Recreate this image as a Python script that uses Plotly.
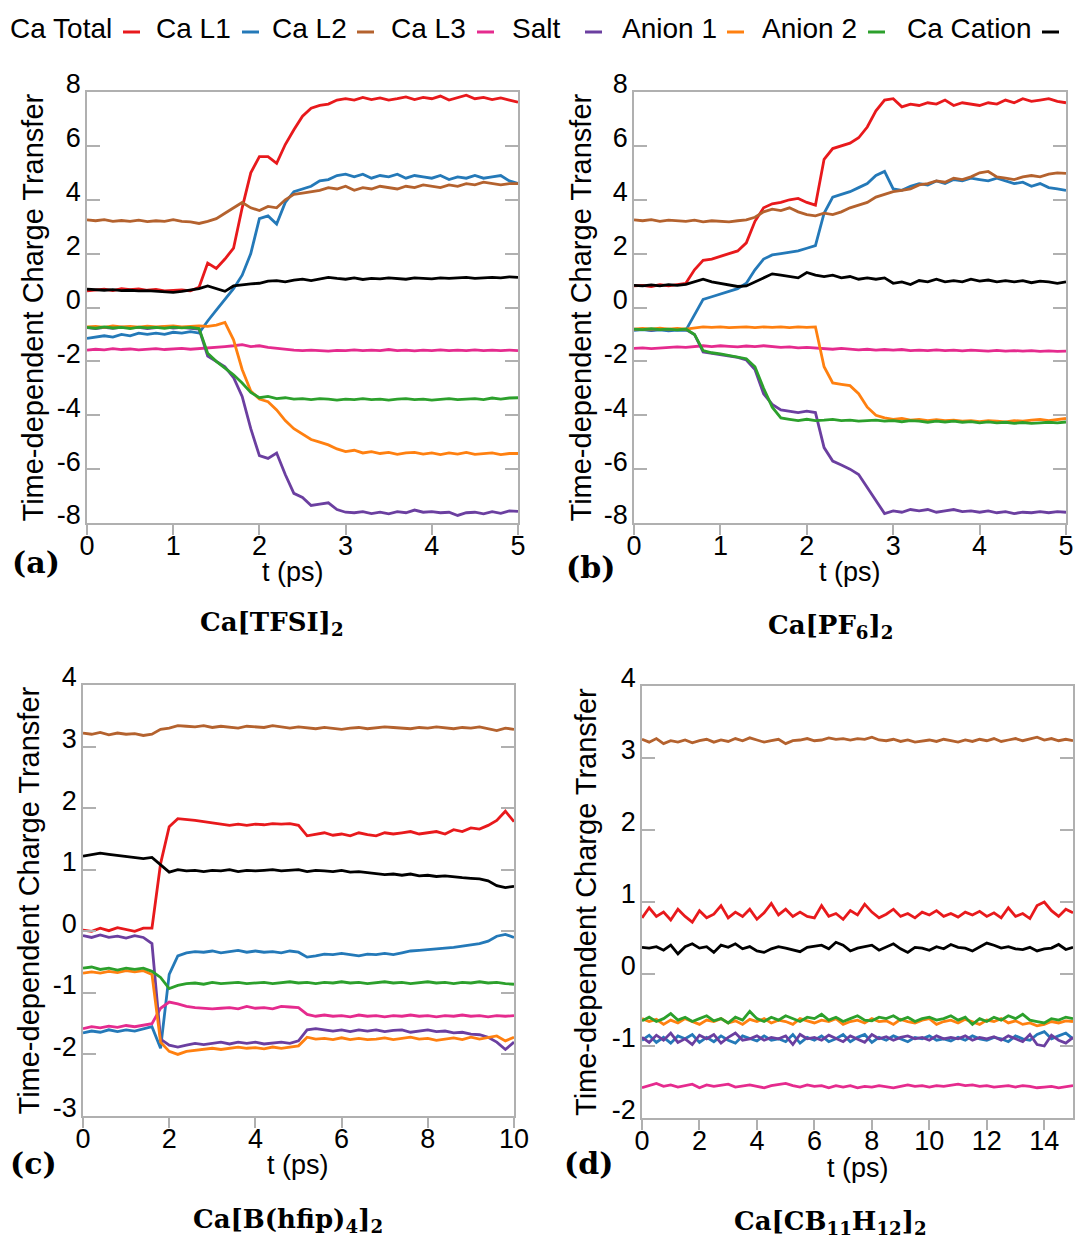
import numpy as np
import plotly.graph_objects as go

# ---------------- data ----------------
series_names = ["Ca Total", "Ca L1", "Ca L2", "Ca L3", "Salt", "Anion 1", "Anion 2", "Ca Cation"]
panel_letters = ["(a)", "(b)", "(c)", "(d)"]
panel_titles = ["Ca[TFSI]<sub>2</sub>", "Ca[PF<sub>6</sub>]<sub>2</sub>",
                "Ca[B(hfip)<sub>4</sub>]<sub>2</sub>", "Ca[CB<sub>11</sub>H<sub>12</sub>]<sub>2</sub>"]
t_end = [5, 5, 10, 15]
x_ticks = [[0, 1, 2, 3, 4, 5], [0, 1, 2, 3, 4, 5], [0, 2, 4, 6, 8, 10], [0, 2, 4, 6, 8, 10, 12, 14]]
y_ticks = [[-8, -6, -4, -2, 0, 2, 4, 6, 8], [-8, -6, -4, -2, 0, 2, 4, 6, 8],
           [-3, -2, -1, 0, 1, 2, 3, 4], [-2, -1, 0, 1, 2, 3, 4]]
y_ticktext = [["-8", "-6", "-4", "-2", "0", "2", "4", "6", "8"], ["-8", "-6", "-4", "-2", "0", "2", "4", "6", "8"],
              ["-3", "-2", "-1", "0", "1", "2", "3", "4"], ["-2", "-1", "0", "1", "2", "3", "4"]]
x_label = "t (ps)"
y_label = "Time-dependent Charge Transfer"

# Panel (a) Ca[TFSI]2, sampled every 0.1 ps
a_total = [0.62, 0.65, 0.68, 0.63, 0.70, 0.66, 0.69, 0.64, 0.67, 0.62, 0.63, 0.65, 0.62, 0.75, 1.65, 1.45, 1.80, 2.20, 3.70, 5.00,
           5.60, 5.60, 5.35, 6.05, 6.60, 7.10, 7.40, 7.50, 7.55, 7.70, 7.75, 7.70, 7.80, 7.72, 7.78, 7.70, 7.75, 7.82, 7.72, 7.80,
           7.75, 7.85, 7.70, 7.80, 7.88, 7.75, 7.80, 7.72, 7.78, 7.70, 7.62]
a_l1 = [-1.15, -1.10, -1.05, -1.10, -1.00, -1.05, -0.95, -1.00, -0.95, -1.00, -0.92, -0.95, -0.90, -0.95, -0.50, -0.10, 0.30, 0.70, 1.20, 2.00,
        3.30, 3.40, 3.10, 3.90, 4.30, 4.40, 4.50, 4.70, 4.75, 4.90, 4.95, 4.85, 4.95, 4.80, 4.90, 4.85, 4.95, 4.80, 4.90, 4.85,
        4.80, 4.90, 4.75, 4.85, 4.80, 4.90, 4.80, 4.85, 4.90, 4.70, 4.60]
a_l2 = [3.25, 3.22, 3.26, 3.20, 3.23, 3.20, 3.24, 3.19, 3.22, 3.20, 3.26, 3.20, 3.18, 3.12, 3.20, 3.30, 3.50, 3.70, 3.90, 3.70,
        3.60, 3.75, 3.70, 4.00, 4.20, 4.25, 4.30, 4.35, 4.45, 4.40, 4.50, 4.35, 4.45, 4.40, 4.50, 4.45, 4.40, 4.50, 4.45, 4.55,
        4.50, 4.45, 4.55, 4.50, 4.60, 4.55, 4.65, 4.60, 4.55, 4.60, 4.60]
a_l3 = [-1.58, -1.55, -1.57, -1.53, -1.56, -1.54, -1.57, -1.55, -1.53, -1.56, -1.54, -1.52, -1.55, -1.53, -1.50, -1.48, -1.45, -1.42, -1.38, -1.45,
        -1.42, -1.48, -1.52, -1.55, -1.58, -1.60, -1.58, -1.60, -1.62, -1.59, -1.60, -1.57, -1.60, -1.58, -1.60, -1.56, -1.60, -1.58, -1.61, -1.58,
        -1.60, -1.57, -1.60, -1.58, -1.60, -1.57, -1.60, -1.58, -1.60, -1.58, -1.60]
a_salt = [-0.75, -0.78, -0.74, -0.77, -0.73, -0.76, -0.74, -0.78, -0.75, -0.72, -0.76, -0.74, -0.77, -0.80, -1.80, -2.00, -2.20, -2.60, -3.30, -4.50,
          -5.50, -5.60, -5.40, -6.20, -6.90, -7.05, -7.35, -7.30, -7.25, -7.50, -7.60, -7.62, -7.58, -7.65, -7.60, -7.66, -7.58, -7.62, -7.52, -7.60,
          -7.58, -7.62, -7.60, -7.72, -7.62, -7.60, -7.66, -7.58, -7.64, -7.55, -7.57]
a_an1 = [-0.72, -0.70, -0.74, -0.68, -0.72, -0.70, -0.73, -0.69, -0.72, -0.70, -0.68, -0.72, -0.70, -0.68, -0.70, -0.65, -0.55, -1.20, -2.30, -3.10,
         -3.40, -3.50, -3.80, -4.20, -4.50, -4.70, -4.90, -5.00, -5.10, -5.25, -5.35, -5.30, -5.40, -5.35, -5.42, -5.38, -5.45, -5.40, -5.38, -5.44,
         -5.40, -5.46, -5.40, -5.44, -5.38, -5.45, -5.42, -5.40, -5.46, -5.42, -5.42]
a_an2 = [-0.74, -0.77, -0.72, -0.76, -0.74, -0.78, -0.73, -0.76, -0.74, -0.77, -0.73, -0.76, -0.74, -0.78, -1.70, -2.00, -2.25, -2.50, -2.80, -3.15,
         -3.35, -3.30, -3.38, -3.35, -3.40, -3.38, -3.42, -3.38, -3.40, -3.44, -3.40, -3.42, -3.38, -3.42, -3.40, -3.44, -3.40, -3.38, -3.42, -3.40,
         -3.44, -3.40, -3.38, -3.42, -3.40, -3.38, -3.42, -3.36, -3.40, -3.36, -3.35]
a_cat = [0.68, 0.65, 0.64, 0.66, 0.63, 0.64, 0.62, 0.63, 0.60, 0.58, 0.56, 0.60, 0.64, 0.70, 0.80, 0.70, 0.60, 0.80, 0.85, 0.88,
         0.90, 0.98, 1.00, 0.95, 1.02, 1.05, 1.00, 1.06, 1.12, 1.08, 1.05, 1.10, 1.04, 1.08, 1.06, 1.10, 1.07, 1.05, 1.10, 1.08,
         1.06, 1.10, 1.08, 1.10, 1.12, 1.08, 1.10, 1.12, 1.10, 1.14, 1.12]

# Panel (b) Ca[PF6]2, sampled every 0.1 ps
b_total = [0.80, 0.82, 0.78, 0.85, 0.80, 0.84, 0.90, 1.40, 1.75, 1.80, 1.90, 2.00, 2.10, 2.40, 3.20, 3.70, 3.85, 3.90, 4.00, 4.05,
           3.90, 3.80, 5.50, 5.90, 6.00, 6.10, 6.30, 6.70, 7.30, 7.70, 7.75, 7.45, 7.55, 7.50, 7.60, 7.55, 7.70, 7.50, 7.60, 7.55,
           7.50, 7.60, 7.55, 7.70, 7.60, 7.75, 7.65, 7.70, 7.75, 7.65, 7.60]
b_l1 = [-0.85, -0.82, -0.86, -0.83, -0.87, -0.84, -0.85, -0.30, 0.30, 0.40, 0.50, 0.60, 0.70, 0.90, 1.40, 1.80, 1.95, 2.00, 2.05, 2.10,
        2.20, 2.30, 3.50, 4.10, 4.20, 4.30, 4.45, 4.60, 4.90, 5.05, 4.40, 4.35, 4.50, 4.60, 4.55, 4.70, 4.60, 4.75, 4.70, 4.80,
        4.75, 4.70, 4.80, 4.70, 4.60, 4.65, 4.50, 4.60, 4.45, 4.40, 4.35]
b_l2 = [3.25, 3.22, 3.26, 3.20, 3.24, 3.22, 3.20, 3.24, 3.18, 3.22, 3.20, 3.18, 3.22, 3.25, 3.35, 3.55, 3.65, 3.60, 3.70, 3.55,
        3.45, 3.40, 3.50, 3.45, 3.55, 3.70, 3.80, 3.90, 4.10, 4.20, 4.30, 4.35, 4.40, 4.55, 4.60, 4.70, 4.65, 4.80, 4.75, 4.85,
        5.00, 5.05, 4.85, 4.80, 4.75, 4.85, 4.90, 4.85, 4.95, 5.00, 4.98]
b_l3 = [-1.52, -1.50, -1.53, -1.50, -1.48, -1.46, -1.48, -1.44, -1.42, -1.45, -1.42, -1.44, -1.46, -1.43, -1.45, -1.42, -1.45, -1.48, -1.46, -1.50,
        -1.48, -1.50, -1.53, -1.55, -1.52, -1.55, -1.57, -1.55, -1.58, -1.56, -1.58, -1.56, -1.60, -1.58, -1.60, -1.57, -1.60, -1.58, -1.61, -1.58,
        -1.60, -1.62, -1.59, -1.62, -1.60, -1.62, -1.60, -1.63, -1.61, -1.63, -1.62]
b_salt = [-0.82, -0.80, -0.84, -0.80, -0.83, -0.81, -0.82, -1.00, -1.65, -1.70, -1.75, -1.80, -1.85, -1.95, -2.30, -3.20, -3.60, -3.80, -3.85, -3.90,
          -3.85, -3.90, -5.20, -5.70, -5.85, -6.00, -6.20, -6.70, -7.20, -7.65, -7.55, -7.60, -7.50, -7.55, -7.50, -7.60, -7.55, -7.50, -7.58, -7.55,
          -7.60, -7.55, -7.62, -7.58, -7.65, -7.60, -7.62, -7.58, -7.62, -7.58, -7.60]
b_an1 = [-0.80, -0.78, -0.80, -0.77, -0.80, -0.78, -0.80, -0.75, -0.72, -0.74, -0.72, -0.75, -0.73, -0.72, -0.75, -0.72, -0.74, -0.72, -0.75, -0.72,
         -0.74, -0.72, -2.20, -2.80, -2.85, -2.90, -3.20, -3.70, -4.00, -4.10, -4.15, -4.12, -4.18, -4.15, -4.20, -4.16, -4.20, -4.18, -4.22, -4.20,
         -4.24, -4.20, -4.22, -4.25, -4.20, -4.22, -4.18, -4.15, -4.20, -4.15, -4.12]
b_an2 = [-0.80, -0.82, -0.79, -0.82, -0.80, -0.83, -0.80, -1.00, -1.60, -1.68, -1.72, -1.78, -1.82, -1.90, -2.20, -3.00, -3.70, -4.10, -4.15, -4.20,
         -4.15, -4.20, -4.18, -4.15, -4.20, -4.18, -4.22, -4.20, -4.18, -4.22, -4.20, -4.24, -4.20, -4.22, -4.26, -4.22, -4.25, -4.22, -4.26, -4.24,
         -4.28, -4.25, -4.28, -4.26, -4.30, -4.27, -4.30, -4.28, -4.26, -4.28, -4.25]
b_cat = [0.82, 0.80, 0.84, 0.80, 0.85, 0.82, 0.86, 0.95, 1.05, 0.95, 0.90, 0.85, 0.78, 0.80, 0.95, 1.10, 1.25, 1.20, 1.15, 1.10,
         1.30, 1.20, 1.15, 1.20, 1.10, 1.15, 1.05, 1.10, 1.05, 1.10, 0.90, 0.95, 0.85, 1.00, 0.95, 1.05, 0.95, 1.00, 0.95, 1.05,
         0.98, 1.02, 0.95, 1.00, 0.95, 1.00, 0.92, 0.98, 0.95, 0.90, 0.95]

# Panel (c) Ca[B(hfip)4]2, sampled every 0.2 ps
c_total = [0.02, 0.00, 0.05, 0.01, 0.06, 0.03, 0.00, 0.05, 0.05, 1.10, 1.70, 1.83, 1.82, 1.80, 1.78, 1.76, 1.75, 1.72, 1.74, 1.72,
           1.74, 1.73, 1.75, 1.74, 1.75, 1.72, 1.55, 1.57, 1.60, 1.56, 1.58, 1.55, 1.60, 1.57, 1.55, 1.60, 1.58, 1.60, 1.62, 1.58,
           1.60, 1.62, 1.58, 1.65, 1.62, 1.68, 1.66, 1.72, 1.80, 1.95, 1.78]
c_l1 = [-1.65, -1.62, -1.64, -1.60, -1.63, -1.60, -1.62, -1.58, -1.55, -1.90, -0.70, -0.40, -0.35, -0.33, -0.34, -0.32, -0.35, -0.33, -0.31, -0.34,
        -0.32, -0.34, -0.33, -0.35, -0.32, -0.34, -0.42, -0.40, -0.37, -0.38, -0.36, -0.38, -0.40, -0.37, -0.38, -0.36, -0.38, -0.35, -0.32, -0.31,
        -0.30, -0.29, -0.28, -0.26, -0.24, -0.22, -0.20, -0.16, -0.08, -0.05, -0.10]
c_l2 = [3.22, 3.20, 3.23, 3.19, 3.22, 3.20, 3.21, 3.18, 3.20, 3.28, 3.30, 3.34, 3.33, 3.32, 3.34, 3.31, 3.33, 3.32, 3.30, 3.33,
        3.32, 3.31, 3.34, 3.32, 3.30, 3.32, 3.30, 3.29, 3.31, 3.30, 3.28, 3.30, 3.31, 3.29, 3.30, 3.32, 3.31, 3.30, 3.29, 3.31,
        3.30, 3.32, 3.30, 3.29, 3.31, 3.30, 3.32, 3.29, 3.26, 3.30, 3.28]
c_l3 = [-1.58, -1.55, -1.57, -1.54, -1.56, -1.53, -1.55, -1.53, -1.50, -1.25, -1.15, -1.18, -1.22, -1.24, -1.25, -1.26, -1.25, -1.24, -1.26, -1.22,
        -1.25, -1.24, -1.26, -1.22, -1.23, -1.24, -1.35, -1.38, -1.36, -1.38, -1.37, -1.39, -1.36, -1.38, -1.37, -1.39, -1.37, -1.38, -1.36, -1.38,
        -1.37, -1.39, -1.37, -1.38, -1.36, -1.38, -1.37, -1.39, -1.37, -1.38, -1.37]
c_salt = [-0.07, -0.10, -0.06, -0.10, -0.08, -0.11, -0.07, -0.10, -0.20, -1.75, -1.85, -1.88, -1.85, -1.82, -1.84, -1.82, -1.80, -1.83, -1.80, -1.82,
          -1.80, -1.83, -1.81, -1.80, -1.82, -1.78, -1.60, -1.58, -1.60, -1.62, -1.60, -1.63, -1.60, -1.62, -1.60, -1.63, -1.61, -1.60, -1.64, -1.62,
          -1.60, -1.63, -1.62, -1.65, -1.64, -1.67, -1.68, -1.72, -1.80, -1.92, -1.80]
c_an1 = [-0.68, -0.66, -0.68, -0.65, -0.67, -0.64, -0.66, -0.64, -0.70, -1.80, -1.95, -2.00, -1.95, -1.93, -1.92, -1.90, -1.92, -1.90, -1.88, -1.90,
         -1.89, -1.91, -1.88, -1.90, -1.88, -1.86, -1.72, -1.75, -1.74, -1.76, -1.73, -1.76, -1.74, -1.76, -1.75, -1.73, -1.76, -1.74, -1.72, -1.75,
         -1.74, -1.77, -1.75, -1.73, -1.76, -1.72, -1.75, -1.73, -1.70, -1.78, -1.72]
c_an2 = [-0.60, -0.58, -0.62, -0.60, -0.63, -0.60, -0.62, -0.60, -0.65, -0.75, -0.93, -0.88, -0.85, -0.84, -0.86, -0.83, -0.85, -0.84, -0.83, -0.85,
         -0.84, -0.83, -0.85, -0.84, -0.82, -0.84, -0.83, -0.85, -0.83, -0.84, -0.82, -0.84, -0.83, -0.85, -0.84, -0.82, -0.84, -0.83, -0.85, -0.83,
         -0.82, -0.84, -0.83, -0.85, -0.83, -0.84, -0.82, -0.84, -0.83, -0.85, -0.86]
c_cat = [1.22, 1.25, 1.27, 1.25, 1.23, 1.22, 1.20, 1.18, 1.20, 1.08, 0.96, 1.00, 0.98, 0.99, 0.97, 0.99, 0.98, 1.00, 0.97, 0.99,
         0.98, 0.99, 1.00, 0.98, 0.99, 1.00, 0.97, 0.99, 0.98, 0.97, 0.99, 0.96, 0.97, 0.95, 0.93, 0.92, 0.93, 0.91, 0.93, 0.90,
         0.91, 0.89, 0.90, 0.88, 0.87, 0.86, 0.85, 0.82, 0.74, 0.71, 0.73]

# Panel (d) Ca[CB11H12]2, sampled every 0.25 ps
d_total = [0.78, 0.92, 0.80, 0.86, 0.75, 0.90, 0.80, 0.72, 0.88, 0.78, 0.83, 0.95, 0.78, 0.86, 0.80, 0.90, 0.76, 0.85, 0.98, 0.82,
           0.90, 0.80, 0.86, 0.80, 0.78, 0.95, 0.80, 0.84, 0.76, 0.88, 0.82, 0.97, 0.86, 0.78, 0.83, 0.90, 0.80, 0.84, 0.78, 0.86,
           0.82, 0.88, 0.80, 0.84, 0.79, 0.86, 0.82, 0.87, 0.80, 0.85, 0.78, 0.92, 0.80, 0.84, 0.77, 0.95, 1.00, 0.88, 0.80, 0.90, 0.85]
d_l1 = [-0.92, -0.85, -0.95, -0.88, -0.96, -0.86, -0.90, -0.84, -0.95, -0.88, -0.94, -0.86, -0.92, -0.96, -0.86, -0.90, -0.93, -0.86, -0.92, -0.90,
        -0.94, -0.84, -0.96, -0.88, -0.92, -0.86, -0.94, -0.90, -0.84, -0.94, -0.88, -0.84, -0.95, -0.88, -0.92, -0.86, -0.90, -0.94, -0.88, -0.90,
        -0.86, -0.92, -0.90, -0.93, -0.88, -0.92, -0.86, -0.90, -0.92, -0.88, -0.90, -0.94, -0.86, -0.90, -0.92, -0.84, -0.80, -0.90, -0.86, -0.82, -0.90]
d_l2 = [3.26, 3.22, 3.27, 3.20, 3.24, 3.22, 3.25, 3.21, 3.24, 3.26, 3.22, 3.25, 3.23, 3.27, 3.24, 3.28, 3.25, 3.22, 3.24, 3.26,
        3.20, 3.24, 3.25, 3.27, 3.24, 3.25, 3.28, 3.26, 3.27, 3.25, 3.27, 3.26, 3.29, 3.25, 3.24, 3.26, 3.23, 3.25, 3.22, 3.24,
        3.25, 3.23, 3.26, 3.24, 3.22, 3.25, 3.23, 3.26, 3.24, 3.27, 3.23, 3.25, 3.27, 3.24, 3.26, 3.29, 3.25, 3.27, 3.24, 3.26, 3.24]
d_l3 = [-1.58, -1.55, -1.52, -1.56, -1.54, -1.57, -1.55, -1.53, -1.58, -1.54, -1.56, -1.55, -1.53, -1.57, -1.55, -1.54, -1.56, -1.58, -1.55, -1.54,
        -1.52, -1.55, -1.57, -1.54, -1.56, -1.55, -1.58, -1.55, -1.57, -1.55, -1.58, -1.56, -1.57, -1.55, -1.56, -1.58, -1.56, -1.54, -1.56, -1.55,
        -1.57, -1.55, -1.56, -1.54, -1.53, -1.55, -1.54, -1.56, -1.55, -1.57, -1.56, -1.55, -1.57, -1.55, -1.56, -1.58, -1.57, -1.56, -1.58, -1.56, -1.55]
d_salt = [-0.88, -0.95, -0.85, -0.92, -0.82, -0.95, -0.90, -0.98, -0.85, -0.90, -0.84, -0.96, -0.88, -0.82, -0.92, -0.90, -0.86, -0.92, -0.88, -0.90,
          -0.86, -0.98, -0.84, -0.90, -0.88, -0.92, -0.85, -0.90, -0.94, -0.86, -0.90, -0.95, -0.84, -0.90, -0.87, -0.92, -0.88, -0.86, -0.90, -0.88,
          -0.92, -0.86, -0.90, -0.88, -0.90, -0.86, -0.92, -0.88, -0.90, -0.87, -0.92, -0.86, -0.90, -0.94, -0.84, -0.98, -1.00, -0.85, -0.92, -0.96, -0.88]
d_an1 = [-0.62, -0.66, -0.63, -0.70, -0.64, -0.68, -0.62, -0.66, -0.70, -0.64, -0.66, -0.62, -0.68, -0.65, -0.70, -0.63, -0.66, -0.62, -0.68, -0.64,
         -0.66, -0.70, -0.62, -0.65, -0.68, -0.64, -0.66, -0.62, -0.70, -0.66, -0.64, -0.68, -0.62, -0.66, -0.65, -0.70, -0.63, -0.66, -0.68, -0.64,
         -0.62, -0.70, -0.66, -0.64, -0.68, -0.63, -0.66, -0.70, -0.64, -0.66, -0.62, -0.68, -0.65, -0.70, -0.68, -0.72, -0.70, -0.66, -0.68, -0.65, -0.66]
d_an2 = [-0.65, -0.60, -0.66, -0.62, -0.55, -0.64, -0.60, -0.66, -0.62, -0.58, -0.65, -0.62, -0.68, -0.60, -0.64, -0.52, -0.62, -0.66, -0.60, -0.64,
         -0.58, -0.62, -0.66, -0.60, -0.62, -0.56, -0.64, -0.60, -0.66, -0.62, -0.58, -0.64, -0.65, -0.60, -0.62, -0.58, -0.64, -0.60, -0.66, -0.62,
         -0.60, -0.64, -0.62, -0.58, -0.64, -0.60, -0.70, -0.62, -0.66, -0.60, -0.64, -0.58, -0.62, -0.56, -0.64, -0.66, -0.68, -0.62, -0.64, -0.60, -0.62]
d_cat = [0.37, 0.36, 0.38, 0.33, 0.40, 0.28, 0.38, 0.42, 0.36, 0.38, 0.30, 0.40, 0.37, 0.42, 0.35, 0.38, 0.32, 0.30, 0.35, 0.38,
         0.36, 0.34, 0.31, 0.37, 0.38, 0.40, 0.35, 0.44, 0.40, 0.32, 0.36, 0.38, 0.40, 0.33, 0.38, 0.42, 0.35, 0.30, 0.37, 0.36,
         0.33, 0.38, 0.35, 0.41, 0.37, 0.36, 0.32, 0.38, 0.43, 0.40, 0.36, 0.38, 0.35, 0.34, 0.37, 0.32, 0.35, 0.36, 0.41, 0.34, 0.37]

panels = [
    [a_total, a_l1, a_l2, a_l3, a_salt, a_an1, a_an2, a_cat],
    [b_total, b_l1, b_l2, b_l3, b_salt, b_an1, b_an2, b_cat],
    [c_total, c_l1, c_l2, c_l3, c_salt, c_an1, c_an2, c_cat],
    [d_total, d_l1, d_l2, d_l3, d_salt, d_an1, d_an2, d_cat],
]

# ---------------- style ----------------
W, H = 1080, 1243
colors = ["#e8191c", "#2479b8", "#b4622e", "#e52b8e", "#6b3fa0", "#ff8010", "#2ca02c", "#000000"]
axis_grey = "#b0b0b0"
sans = "Liberation Sans, Arial, sans-serif"
serif = "DejaVu Serif, serif"

# plot boxes in pixels: (left, top, right, bottom)
boxes = [(87, 92, 518, 523), (634, 92, 1066, 523), (83, 685, 514, 1116), (642, 686, 1073, 1118)]


def px(x):
    return x / W


def py(y):
    return 1 - y / H


fig = go.Figure()
layout = dict(width=W, height=H, margin=dict(l=0, r=0, t=0, b=0, pad=0, autoexpand=False), autosize=False,
              paper_bgcolor="white", plot_bgcolor="white", showlegend=False)

for i, (series, box) in enumerate(zip(panels, boxes)):
    k = "" if i == 0 else str(i + 1)
    for name, vals, col in zip(series_names, series, colors):
        t = np.linspace(0, t_end[i], len(vals))
        fig.add_trace(go.Scatter(x=t, y=vals, mode="lines", name=name,
                                 line=dict(color=col, width=2.8),
                                 xaxis="x" + k, yaxis="y" + k, showlegend=False))
    l, tp, r, b = box
    layout["xaxis" + k] = dict(domain=[px(l), px(r)], range=[0, t_end[i]], anchor="y" + k,
                               tickvals=x_ticks[i], ticktext=[str(v) for v in x_ticks[i]],
                               ticks="outside", ticklen=10, tickwidth=1.5, automargin=False,
                               tickcolor=axis_grey, showline=True, linecolor=axis_grey, linewidth=1.5,
                               mirror=True, showgrid=False, zeroline=False, ticklabelstandoff=-12,
                               tickfont=dict(family=sans, size=27, color="black"))
    layout["yaxis" + k] = dict(domain=[py(b), py(tp)], range=[y_ticks[i][0], y_ticks[i][-1]], anchor="x" + k,
                               tickvals=y_ticks[i], ticktext=y_ticktext[i], automargin=False,
                               ticks="inside", ticklen=13, tickwidth=1.5,
                               tickcolor=axis_grey, showline=True, linecolor=axis_grey, linewidth=1.5,
                               mirror="allticks", showgrid=False, zeroline=False,
                               ticklabelshift=-8, ticklabelstandoff=-1,
                               tickfont=dict(family=sans, size=27, color="black"))

fig.update_layout(**layout)

annotations = []
# axis titles and panel labels
ytitle_x = [32, 580, 28, 586]
xtitle_pos = [(293, 572), (850, 572), (298, 1165), (858, 1168)]
letter_pos = [(36, 562), (590, 567), (33, 1163), (588, 1163)]
title_pos = [(272, 623), (830, 626), (288, 1220), (830, 1222)]
for i, box in enumerate(boxes):
    l, tp, r, b = box
    annotations.append(dict(x=px(ytitle_x[i]), y=py((tp + b) / 2), xref="paper", yref="paper",
                            text=y_label, textangle=-90, showarrow=False,
                            font=dict(family=sans, size=29, color="black"),
                            xanchor="center", yanchor="middle"))
    annotations.append(dict(x=px(xtitle_pos[i][0]), y=py(xtitle_pos[i][1]), xref="paper", yref="paper",
                            text=x_label, showarrow=False, font=dict(family=sans, size=27, color="black"),
                            xanchor="center", yanchor="middle"))
    annotations.append(dict(x=px(letter_pos[i][0]), y=py(letter_pos[i][1]), xref="paper", yref="paper",
                            text="<b>" + panel_letters[i] + "</b>", showarrow=False,
                            font=dict(family=serif, size=30, color="black"),
                            xanchor="center", yanchor="middle"))
    annotations.append(dict(x=px(title_pos[i][0]), y=py(title_pos[i][1]), xref="paper", yref="paper",
                            text="<b>" + panel_titles[i] + "</b>", showarrow=False,
                            font=dict(family=serif, size=26, color="black"),
                            xanchor="center", yanchor="middle"))

# legend across the top: label followed by a short coloured dash
legend_text_x = [10, 156, 272, 391, 512, 622, 762, 907]
legend_mark_x = [123, 242, 357, 477, 585, 727, 868, 1042]
shapes = []
for name, col, tx, mx in zip(series_names, colors, legend_text_x, legend_mark_x):
    annotations.append(dict(x=px(tx - 2), y=py(28), xref="paper", yref="paper", text=name,
                            showarrow=False, font=dict(family=sans, size=28, color="black"),
                            xanchor="left", yanchor="middle"))
    shapes.append(dict(type="line", xref="paper", yref="paper", x0=px(mx), x1=px(mx + 17),
                       y0=py(32), y1=py(32), line=dict(color=col, width=3)))

fig.update_layout(annotations=annotations, shapes=shapes)
fig.write_html("out.html",
               post_script="document.body.style.margin='0';document.body.style.padding='0';"
                           "document.documentElement.style.overflow='hidden';")
